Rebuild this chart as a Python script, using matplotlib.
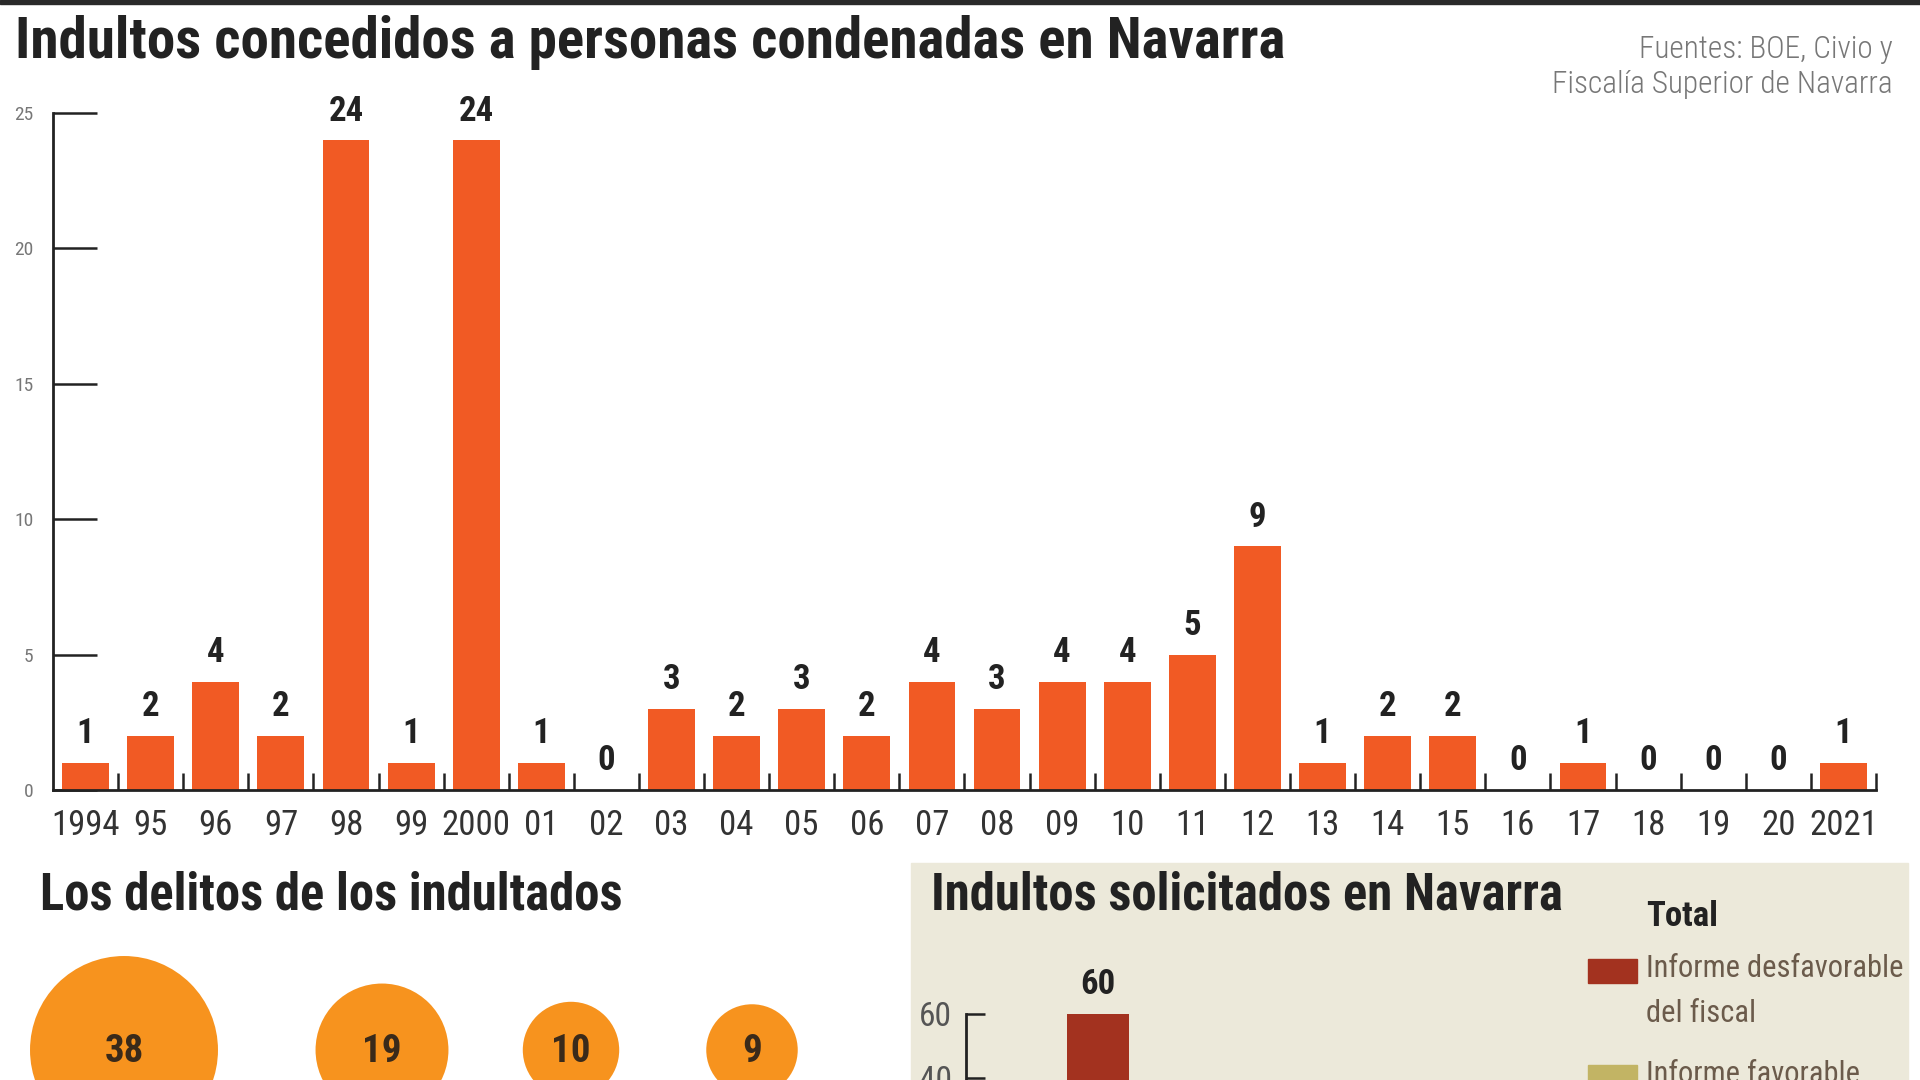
import numpy as np
import matplotlib
matplotlib.use("Agg")
import matplotlib.pyplot as plt
from matplotlib import font_manager as fm
from matplotlib.patches import Rectangle

# --- data ---
years = ['1994', '95', '96', '97', '98', '99', '2000', '01', '02', '03', '04', '05', '06', '07',
         '08', '09', '10', '11', '12', '13', '14', '15', '16', '17', '18', '19', '20', '2021']
indultos = [1, 2, 4, 2, 24, 1, 24, 1, 0, 3, 2, 3, 2, 4, 3, 4, 4, 5, 9, 1, 2, 2, 0, 1, 0, 0, 0, 1]

delitos_values = [38, 19, 10, 9]

solicitados_cats = ['Total']
solicitados_desfav = [60]

legend_labels = ['Informe desfavorable\ndel fiscal', 'Informe favorable']


def pick_condensed():
    fonts = fm.fontManager.ttflist
    names = {f.name for f in fonts}
    for pref in ['Roboto Condensed', 'Liberation Sans Narrow', 'Open Sans Condensed',
                 'Noto Sans Condensed', 'DejaVu Sans Condensed', 'Arial Narrow']:
        if pref in names:
            return pref, 'normal'
    for f in fonts:
        if str(f.stretch) in ('condensed', 'semi-condensed', 'extra-condensed'):
            return f.name, f.stretch
    return 'DejaVu Sans', 'normal'


COND_NAME, COND_STRETCH = pick_condensed()
COND = [COND_NAME, 'DejaVu Sans']
BAR_COLOR = '#F15A24'
BUBBLE_COLOR = '#F7931E'
DARK = '#222222'

W, H = 1920, 1080
fig = plt.figure(figsize=(19.2, 10.8), dpi=100)
fig.patch.set_facecolor('white')


def ftext(x, y, s, **kw):
    kw.setdefault('family', COND)
    kw.setdefault('fontstretch', COND_STRETCH)
    return fig.text(x / W, 1 - y / H, s, **kw)


# top rule
fig.patches.append(Rectangle((0, 1 - 4 / H), 1, 4 / H, transform=fig.transFigure,
                             color='#2a2a2a', zorder=-1))

# titles
ftext(15, 42, 'Indultos concedidos a personas condenadas en Navarra',
      fontweight='bold', fontsize=41, color=DARK, va='center', ha='left')
ftext(1893, 67, 'Fuentes: BOE, Civio y\nFiscalía Superior de Navarra',
      fontsize=22.5, fontweight='light', color='#777777', va='center', ha='right',
      multialignment='right', linespacing=1.3)

# --- main bar chart ---
ax = fig.add_axes([53 / W, 1 - 790 / H, (1876 - 53) / W, (790 - 113) / H])
x = np.arange(len(years))
ax.bar(x, indultos, width=0.72, color=BAR_COLOR, zorder=2)
for xi, v in zip(x, indultos):
    ax.annotate(str(v), (xi, v), xytext=(0, 9), textcoords='offset points',
                ha='center', va='bottom', family=COND, fontstretch=COND_STRETCH,
                fontweight='bold', fontsize=25, color=DARK)

ax.set_xlim(-0.5, len(years) - 0.5)
ax.set_ylim(0, 25)
ax.set_yticks([0, 5, 10, 15, 20, 25])
ax.tick_params(axis='y', direction='in', length=32, width=1.8, color=DARK,
               labelsize=14, labelcolor='#777777', pad=14)
for lab in ax.get_yticklabels():
    lab.set_family(COND)
    lab.set_fontstretch(COND_STRETCH)
ax.set_xticks(x)
ax.set_xticklabels(years, family=COND, fontstretch=COND_STRETCH, fontsize=25, color='#333333')
ax.tick_params(axis='x', which='major', length=0, pad=14)
ax.set_xticks(np.arange(0.5, len(years), 1), minor=True)
ax.tick_params(axis='x', which='minor', direction='in', length=12, width=1.8, color=DARK)
for side in ['top', 'right']:
    ax.spines[side].set_visible(False)
for side in ['left', 'bottom']:
    ax.spines[side].set_linewidth(2)
    ax.spines[side].set_color(DARK)

# --- bottom left: bubbles ---
ftext(40, 895, 'Los delitos de los indultados',
      fontweight='bold', fontsize=36.5, color=DARK, va='center', ha='left')

bubble_x = [124, 382, 571, 752]
axb = fig.add_axes([0, 0, 1, 1])
axb.set_xlim(0, W)
axb.set_ylim(H, 0)
axb.axis('off')
axb.patch.set_alpha(0)
axb.scatter(bubble_x, [1050] * len(delitos_values),
            s=[482 * v for v in delitos_values], color=BUBBLE_COLOR, edgecolors='none')
for bx, v in zip(bubble_x, delitos_values):
    axb.text(bx, 1051, str(v), ha='center', va='center', family=COND,
             fontstretch=COND_STRETCH, fontweight='bold', fontsize=28, color='#3a2a1a')

# --- bottom right panel ---
fig.patches.append(Rectangle((911 / W, 0), (1908 - 911) / W, (1080 - 863) / H,
                             transform=fig.transFigure, color='#ECE9DA', zorder=-1))
ftext(931, 895, 'Indultos solicitados en Navarra',
      fontweight='bold', fontsize=36.5, color=DARK, va='center', ha='left')

axs = fig.add_axes([966 / W, 1 - 1206 / H, 594 / W, 192 / H])
axs.patch.set_alpha(0)
axs.bar([0], solicitados_desfav, width=0.47, color='#A3321F')
for xi, v in zip([0], solicitados_desfav):
    axs.annotate(str(v), (xi, v), xytext=(0, 9), textcoords='offset points',
                 ha='center', va='bottom', family=COND, fontstretch=COND_STRETCH,
                 fontweight='bold', fontsize=25, color=DARK)
axs.set_xlim(-1, 3.5)
axs.set_ylim(0, 60)
axs.set_yticks([20, 40, 60])
axs.set_xticks([])
axs.tick_params(axis='y', direction='in', length=14, width=1.8, color=DARK,
                labelsize=24, labelcolor='#555555', pad=10)
for lab in axs.get_yticklabels():
    lab.set_family(COND)
    lab.set_fontstretch(COND_STRETCH)
for side in ['top', 'right', 'bottom']:
    axs.spines[side].set_visible(False)
axs.spines['left'].set_linewidth(2)
axs.spines['left'].set_color(DARK)

# legend
ftext(1646, 917, 'Total', fontweight='bold', fontsize=25, color=DARK, va='center', ha='left')
legend_colors = ['#A3321F', '#C2B464']
legend_y = [971, 1077]
for col, lab, ly in zip(legend_colors, legend_labels, legend_y):
    fig.patches.append(Rectangle((1588 / W, 1 - (ly + 12) / H), 49 / W, 24 / H,
                                 transform=fig.transFigure, color=col, zorder=1))
    ftext(1646, ly - 17, lab, fontsize=22, color='#6b5b4b', va='top', ha='left',
          linespacing=1.7)

fig.savefig('out.png', dpi=100)
